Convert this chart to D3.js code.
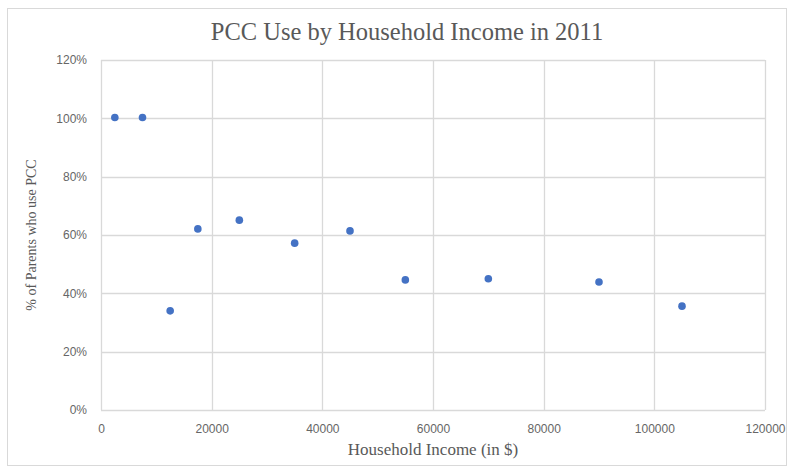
<!DOCTYPE html>
<html>
<head>
<meta charset="utf-8">
<script src="https://cdn.jsdelivr.net/npm/d3@7"></script>
<style>
  html, body { margin: 0; padding: 0; background: #ffffff; }
  svg { display: block; }
</style>
</head>
<body>
<svg id="chart" width="796" height="472"></svg>
<script>
// Household income (bracket midpoints, $) and share of parents using PCC (%)
const incomes = [2500, 7500, 12500, 17500, 25000, 35000, 45000, 55000, 70000, 90000, 105000];
const pccShare = [100.3, 100.3, 34, 62.1, 65.1, 57.2, 61.4, 44.6, 45, 43.9, 35.6];
const xTicks = [0, 20000, 40000, 60000, 80000, 100000, 120000];
const yTicks = [0, 20, 40, 60, 80, 100, 120];

const svg = d3.select("#chart");
const plot = { left: 101, right: 765, top: 60, bottom: 410 };

// chart frame
svg.append("rect")
  .attr("x", 7.5).attr("y", 8.5)
  .attr("width", 779).attr("height", 457)
  .attr("fill", "#ffffff")
  .attr("stroke", "#d9d9d9").attr("stroke-width", 1);

const x = d3.scaleLinear().domain([0, 120000]).range([plot.left, plot.right]);
const y = d3.scaleLinear().domain([0, 120]).range([plot.bottom, plot.top]);

// gridlines
const grid = svg.append("g").attr("stroke", "#d9d9d9").attr("stroke-width", 1.3);
grid.selectAll("line.v").data(xTicks).join("line")
  .attr("x1", d => Math.round(x(d)) + 0.5).attr("x2", d => Math.round(x(d)) + 0.5)
  .attr("y1", plot.top).attr("y2", plot.bottom);
grid.selectAll("line.h").data(yTicks).join("line")
  .attr("y1", d => Math.round(y(d)) + 0.5).attr("y2", d => Math.round(y(d)) + 0.5)
  .attr("x1", plot.left).attr("x2", plot.right);

// axes (labels only; lines come from the grid)
const xAxis = svg.append("g")
  .attr("transform", `translate(0,${plot.bottom})`)
  .call(d3.axisBottom(x).tickValues(xTicks).tickFormat(d3.format("d")).tickSize(0).tickPadding(14));
const yAxis = svg.append("g")
  .attr("transform", `translate(${plot.left},0)`)
  .call(d3.axisLeft(y).tickValues(yTicks).tickFormat(d => d + "%").tickSize(0).tickPadding(14));
[xAxis, yAxis].forEach(a => {
  a.select(".domain").remove();
  a.selectAll("text")
    .attr("fill", "#666666")
    .style("font-family", "'Liberation Sans', Arial, sans-serif")
    .style("font-size", "12px");
});

// points
svg.append("g").selectAll("circle")
  .data(incomes.map((v, i) => [v, pccShare[i]]))
  .join("circle")
  .attr("cx", d => x(d[0]))
  .attr("cy", d => y(d[1]))
  .attr("r", 3.8)
  .attr("fill", "#4472c4");

// title
svg.append("text")
  .attr("x", 407).attr("y", 40)
  .attr("text-anchor", "middle")
  .attr("fill", "#595959")
  .style("font-family", "'Liberation Serif', 'Times New Roman', serif")
  .style("font-size", "24.5px")
  .text("PCC Use by Household Income in 2011");

// axis titles
svg.append("text")
  .attr("x", 433).attr("y", 455)
  .attr("text-anchor", "middle")
  .attr("fill", "#595959")
  .style("font-family", "'Liberation Serif', 'Times New Roman', serif")
  .style("font-size", "17px")
  .text("Household Income (in $)");

svg.append("text")
  .attr("transform", `translate(36,${(plot.top + plot.bottom) / 2}) rotate(-90)`)
  .attr("text-anchor", "middle")
  .attr("fill", "#595959")
  .style("font-family", "'Liberation Serif', 'Times New Roman', serif")
  .style("font-size", "14px")
  .text("% of Parents who use PCC");
</script>
</body>
</html>
